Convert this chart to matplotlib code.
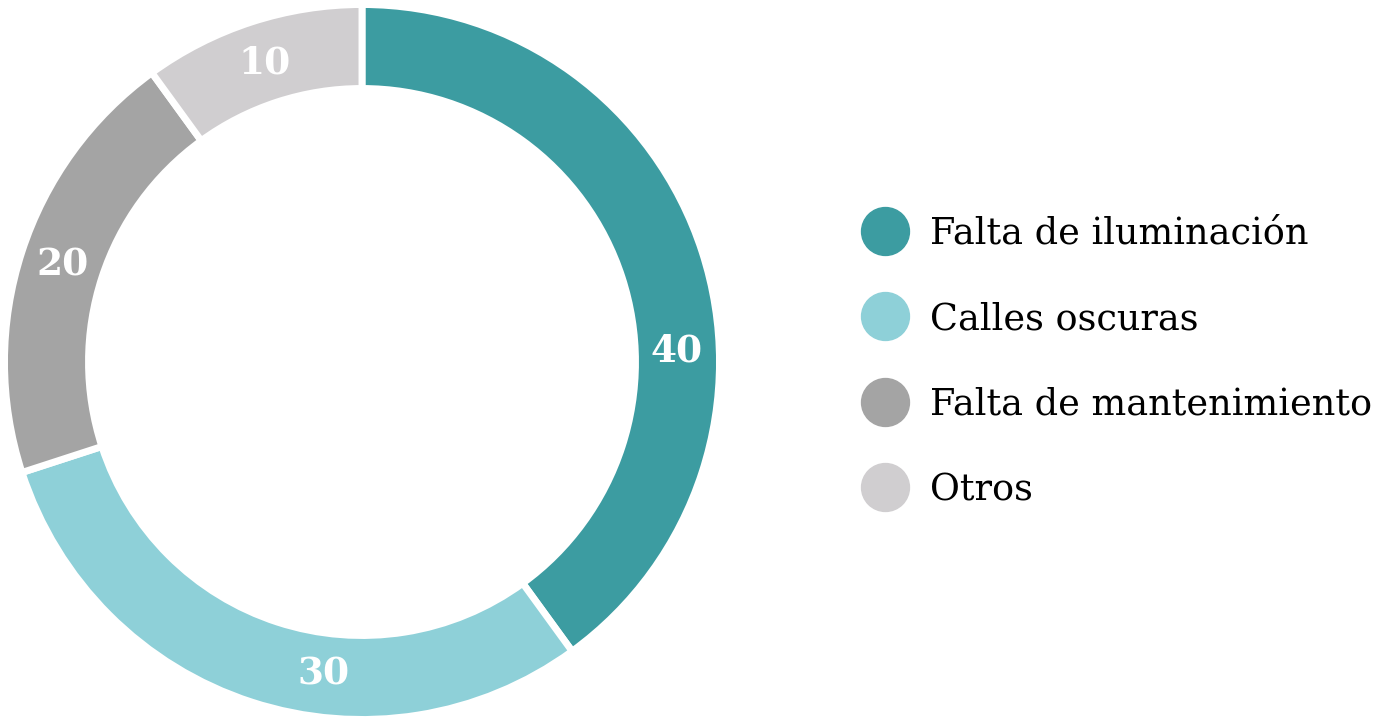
import numpy as np
import matplotlib
matplotlib.use("Agg")
import matplotlib.pyplot as plt
from matplotlib.lines import Line2D

categories = ["Falta de iluminación", "Calles oscuras", "Falta de mantenimiento", "Otros"]
values = [40, 30, 20, 10]
colors = ["#3C9CA1", "#8ED0D8", "#A4A4A4", "#D0CED0"]

# label placement tweaks (degrees, style only)
label_angle_shift = [-16, 11, 0, 0]
label_radius = 0.88

W, H = 1373, 725
fig = plt.figure(figsize=(W / 100, H / 100), dpi=100)
fig.patch.set_facecolor("white")

cx, cy, R = 362, 362, 357.5
ax = fig.add_axes([(cx - R) / W, (H - cy - R) / H, 2 * R / W, 2 * R / H])

wedges, _ = ax.pie(values, colors=colors, startangle=90, counterclock=False,
                   radius=1.0,
                   wedgeprops=dict(width=0.235, edgecolor="white", linewidth=5))
ax.set_xlim(-1, 1)
ax.set_ylim(-1, 1)
ax.set_aspect("equal")
ax.axis("off")

total = sum(values)
start = 90.0
for v, w, shift in zip(values, wedges, label_angle_shift):
    span = 360.0 * v / total
    mid = start - span / 2 + shift
    start -= span
    x = label_radius * np.cos(np.radians(mid))
    y = label_radius * np.sin(np.radians(mid))
    ax.text(x, y, str(v), ha="center", va="center", color="white",
            fontsize=27, fontweight="bold", family="DejaVu Serif")

fs = 26.4
handles = [Line2D([], [], marker="o", linestyle="none", markersize=34.5,
                  markerfacecolor=c, markeredgecolor=c) for c in colors]
leg = fig.legend(handles, categories, loc="center left",
                 bbox_to_anchor=(855.7 / W, 1 - 362 / H),
                 frameon=False, handlelength=1.6,
                 handletextpad=0.425, labelspacing=1.35, borderpad=0,
                 borderaxespad=0, prop=dict(family="DejaVu Serif", size=fs))

fig.savefig("out.png", dpi=100, facecolor="white")
